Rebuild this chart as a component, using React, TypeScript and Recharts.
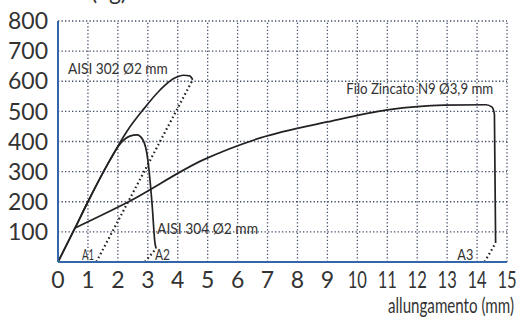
import React from 'react'
import {
  LineChart, Line, XAxis, YAxis, ReferenceDot, Label,
} from 'recharts'

// curve points: [allungamento mm, carico kg]
const aisi302 = [
  [0, 0], [0.57, 113], [1, 200], [1.74, 339], [2.31, 435], [2.84, 505],
  [3.41, 571], [3.85, 608], [4.2, 620], [4.4, 618], [4.5, 605],
]
const aisi304 = [
  [0, 0], [0.57, 113], [1, 200], [1.74, 339], [2.1, 395], [2.4, 418],
  [2.64, 422], [2.84, 405], [3.0, 340], [3.14, 196], [3.24, 63], [3.28, 45],
]
const zincato = [
  [0.57, 113], [2.34, 199], [4.85, 339], [6.76, 412], [9, 465], [11, 505],
  [12.9, 521], [14.3, 522], [14.5, 514], [14.58, 490], [14.62, 63],
]
// recovery (dotted) lines
const ritorno1 = [[1.28, 0], [4.5, 605]]
const ritorno2 = [[2.9, 0], [3.28, 45]]
const ritorno3 = [[14.25, 0], [14.62, 63]]

const xTicks = [0, 1, 2, 3, 4, 5, 6, 7, 8, 9, 10, 11, 12, 13, 14, 15]
const yTicks = [0, 100, 200, 300, 400, 500, 600, 700, 800]

// annotations: text, x, y (baseline), width in px
const labels = [
  { text: 'AISI 302 Ø2 mm', x: 0.33, y: 625, w: 100, size: 15 },
  { text: 'Filo Zincato N9 Ø3,9 mm', x: 9.63, y: 558, w: 147, size: 15 },
  { text: 'AISI 304 Ø2 mm', x: 3.31, y: 93, w: 101, size: 15 },
  { text: 'A1', x: 0.8, y: 7, w: 12, size: 16 },
  { text: 'A2', x: 3.24, y: 7, w: 15, size: 16 },
  { text: 'A3', x: 13.34, y: 7, w: 16, size: 16 },
]

const toPts = (arr: number[][]) => arr.map(([x, y]) => ({ x, y }))

const FONT = 'Lato, "Open Sans", sans-serif'
const INK = '#222'
const TXT = '#333'
const AXIS = '#3566a8'
const GRID = '#3f4a66'

function XTick({ x, y, payload }: any) {
  const s = String(payload.value)
  const sx = s.length > 1 ? 0.72 : 1
  return (
    <text transform={`translate(${x},${y}) scale(${sx},1)`} textAnchor="middle"
      dy="0.71em" fill={TXT} fontSize={23} fontFamily={FONT}>
      {s}
    </text>
  )
}

function YTick({ x, y, payload }: any) {
  if (payload.value === 0) return null
  return (
    <text x={x} y={y} textAnchor="end" dy="0.355em" fill={TXT}
      fontSize={23} fontFamily={FONT}>
      {payload.value}
    </text>
  )
}

const dotted = { stroke: INK, strokeWidth: 2.2, strokeDasharray: '1.6 2.8' }
const solid = { stroke: INK, strokeWidth: 1.7 }
const grid = { stroke: GRID, strokeWidth: 1.3, strokeDasharray: '1.3 2.2' }

// grid lines built from the tick lists, drawn as two-point series
const vGrid = xTicks.filter(v => v > 0).map(v => [{ x: v, y: 0 }, { x: v, y: 800 }])
const hGrid = yTicks.filter(v => v > 0).map(v => [{ x: 0, y: v }, { x: 15, y: v }])

export default function App() {
  return (
    <div style={{ position: 'absolute', left: 0, top: 0, background: '#fff' }}>
      <LineChart width={521} height={325} margin={{ top: 21, right: 14, bottom: 33, left: 0 }}>
        <XAxis type="number" dataKey="x" domain={[0, 15]} ticks={xTicks} interval={0}
          height={30} tick={<XTick />} tickLine={false} tickMargin={4}
          axisLine={{ stroke: AXIS, strokeWidth: 2 }}>
          <Label content={(p: any) => (
            <text x={p.viewBox.x + p.viewBox.width + 7} y={p.viewBox.y + 51} textAnchor="end"
              fill={TXT} fontSize={22} fontFamily={FONT}
              textLength={126} lengthAdjust="spacingAndGlyphs">
              allungamento (mm)
            </text>
          )} />
        </XAxis>
        <YAxis type="number" dataKey="y" domain={[0, 800]} ticks={yTicks} interval={0}
          width={58} tick={<YTick />} tickLine={false} tickMargin={4}
          axisLine={{ stroke: AXIS, strokeWidth: 2 }}>
          <Label content={(p: any) => (
            <text x={127} y={p.viewBox.y - 21} textAnchor="end"
              fill={TXT} fontSize={23} fontFamily={FONT}>
              carico (kg)
            </text>
          )} />
        </YAxis>

        {vGrid.map((d, i) => (
          <Line key={'gx' + i} data={d} dataKey="y" type="linear" {...grid}
            dot={false} activeDot={false} isAnimationActive={false} />
        ))}
        {hGrid.map((d, i) => (
          <Line key={'gy' + i} data={d} dataKey="y" type="linear" {...grid}
            dot={false} activeDot={false} isAnimationActive={false} />
        ))}

        <Line data={toPts(ritorno1)} dataKey="y" type="linear" {...dotted}
          dot={false} isAnimationActive={false} />
        <Line data={toPts(ritorno2)} dataKey="y" type="linear" {...dotted}
          dot={false} isAnimationActive={false} />
        <Line data={toPts(ritorno3)} dataKey="y" type="linear" {...dotted}
          dot={false} isAnimationActive={false} />

        <Line data={toPts(aisi302)} dataKey="y" type="monotone" {...solid}
          dot={false} isAnimationActive={false} />
        <Line data={toPts(aisi304)} dataKey="y" type="monotone" {...solid}
          dot={false} isAnimationActive={false} />
        <Line data={toPts(zincato)} dataKey="y" type="monotone" {...solid}
          dot={false} isAnimationActive={false} />

        {labels.map(l => (
          <ReferenceDot key={l.text} x={l.x} y={l.y} r={0} fill="none" stroke="none"
            label={{
              content: (p: any) => (
                <text x={p.viewBox.x} y={p.viewBox.y + p.viewBox.height / 2} fill={TXT}
                  fontSize={l.size} fontFamily={FONT} textLength={l.w}
                  lengthAdjust="spacingAndGlyphs">
                  {l.text}
                </text>
              ),
            }} />
        ))}
      </LineChart>
    </div>
  )
}
